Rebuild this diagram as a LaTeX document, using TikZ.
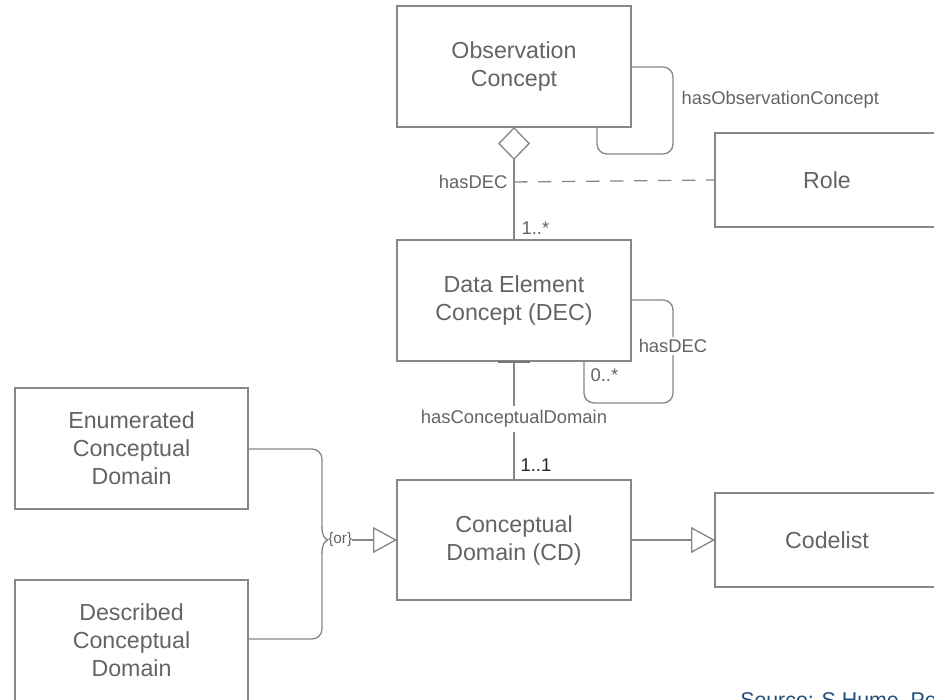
\documentclass[tikz,border=0pt]{standalone}
\usepackage{fontspec}
\setmainfont{Liberation Sans}
\usetikzlibrary{arrows.meta}
\definecolor{linec}{RGB}{135,135,135}
\definecolor{txtc}{RGB}{100,100,100}
\definecolor{srcblue}{RGB}{31,78,121}
\begin{document}
\begin{tikzpicture}[x=0.75pt,y=-0.75pt,
  box/.style={draw=linec,line width=1pt,fill=white,inner sep=0pt,outer sep=0pt,
    text=txtc,align=center,font=\fontsize{17.4}{21}\selectfont},
  conn/.style={draw=linec,line width=1pt},
  lbl/.style={text=txtc,font=\fontsize{13.8}{16}\selectfont,inner sep=1pt},
  mult/.style={font=\fontsize{13.8}{16}\selectfont,inner sep=1pt},
  gen/.style={conn,-{Triangle[open,length=18pt,width=19.5pt]}},
  agg/.style={conn,-{Diamond[open,length=24.75pt,width=24pt]}}]
\useasboundingbox (0,0) rectangle (934,699);
\clip (0,0) rectangle (934,699);
% boxes
\node[box,minimum width=175.5pt,minimum height=90.75pt] (obs) at (514,66.5) {Observation\\Concept};
\node[box,minimum width=168pt,minimum height=70.5pt] (role) at (827,180) {Role};
\node[box,minimum width=175.5pt,minimum height=90.75pt] (dec) at (514,300.5) {Data Element\\Concept (DEC)};
\node[box,minimum width=175.5pt,minimum height=90pt] (cd) at (514,540) {Conceptual\\Domain (CD)};
\node[box,minimum width=168pt,minimum height=70.5pt] (code) at (827,540) {Codelist};
\node[box,minimum width=174.75pt,minimum height=90.75pt] (enum) at (131.5,448.5) {Enumerated\\Conceptual\\Domain};
\node[box,minimum width=174.75pt,minimum height=90.75pt] (desc) at (131.5,640.5) {Described\\Conceptual\\Domain};
% aggregation DEC -> Observation
\draw[agg] (dec.north) -- (obs.south);
\coordinate (j1) at (514,182);
\node[lbl,anchor=east] (lhasdec) at (509,182) {hasDEC};
\draw[conn,dash pattern=on 10pt off 8pt] (j1) -- (role.west);
\node[mult,anchor=west,text=txtc] (m1) at (520,228) {1..*};
% observation self loop
\draw[conn,rounded corners=7.5pt] (obs.east |- 0,67) -- (673,67) -- (673,154) -- (597,154) -- (597,127);
\node[lbl,anchor=west] (lhoc) at (680,100) {hasObservationConcept};
% DEC self loop
\draw[conn,rounded corners=7.5pt] (dec.east |- 0,300) -- (673,300) -- (673,403) -- (584,403) -- (584,361);
\node[lbl,fill=white,inner sep=2pt] (lhasdec2) at (673,346) {hasDEC};
\node[mult,anchor=west,text=txtc] (m0) at (589,375) {0..*};
% DEC -> CD
\draw[conn] (dec.south) -- (cd.north);
\draw[line width=1.5pt,draw=linec!90!black] (498,362) -- (530,362);
\node[lbl,fill=white,inner sep=3pt] (lhcd) at (514,419) {hasConceptualDomain};
\node[mult,anchor=west,text=black!85] (m11) at (519,465) {1..1};
% CD -> Codelist
\draw[gen] (cd.east) -- (code.west);
% brace
\coordinate (jn) at (328,540);
\draw[conn,rounded corners=7.5pt] (enum.east |- 0,449) -- (322,449) -- (322,528);
\draw[conn] (322,527) .. controls (322,536) and (325,539) .. (jn);
\draw[conn,rounded corners=7.5pt] (desc.east |- 0,639) -- (322,639) -- (322,552);
\draw[conn] (322,553) .. controls (322,544) and (325,541) .. (jn);
\node[text=txtc,font=\fontsize{11.5}{13}\selectfont,inner sep=0pt,anchor=west] (or) at (328,540) {\{or\}};
\draw[gen] (or.east) -- (cd.west);
% source
\node[anchor=base west,text=srcblue,font=\fontsize{16}{18}\selectfont,inner sep=0pt] (src) at (740,707) {Source: S Hume, Po};
\end{tikzpicture}
\end{document}
